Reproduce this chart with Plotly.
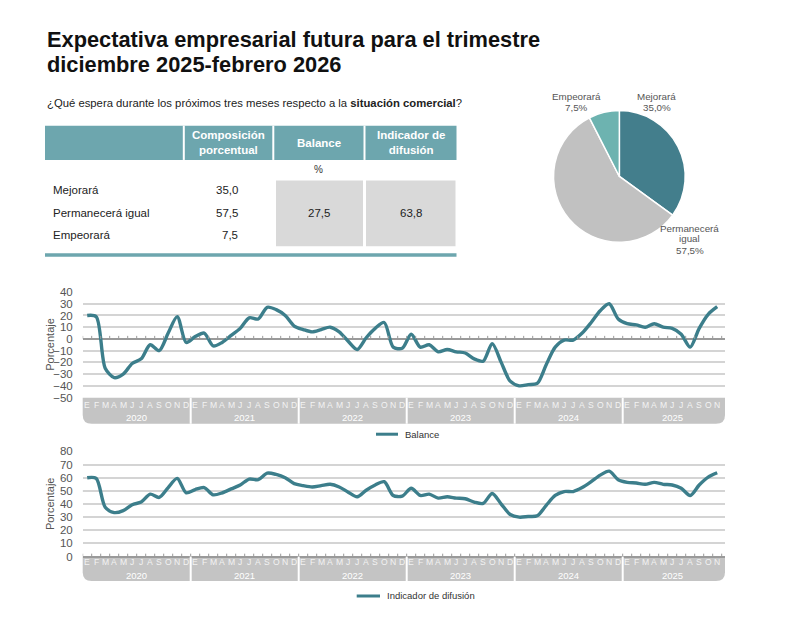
import plotly.graph_objects as go

W, H = 790, 617

# ---------------- data ----------------
years = ["2020", "2021", "2022", "2023", "2024", "2025"]
month_letters = ["E", "F", "M", "A", "M", "J", "J", "A", "S", "O", "N", "D"]

balance = [
    20, 19, -25, -33, -30, -21, -17, -5, -10, 5, 19, -3,
    2, 5, -6, -3, 3, 9, 18, 17, 27, 25, 20, 11,
    8, 6, 8, 10, 6, -2, -9, 1, 9, 14, -7, -8,
    4, -7, -5, -11, -9, -11, -12, -17, -19, -4, -20, -36,
    -40, -39, -38, -22, -7, -1, -1, 5, 14, 24, 30, 17,
    13, 12, 10, 13, 10, 9, 4, -7, 9, 21, 27.5,
]
difusion = [
    60, 59.5, 37.5, 33.5, 35, 39.5, 41.5, 47.5, 45, 52.5, 59.5, 48.5,
    51, 52.5, 47, 48.5, 51.5, 54.5, 59, 58.5, 63.5, 62.5, 60, 55.5,
    54, 53, 54, 55, 53, 49, 45.5, 50.5, 54.5, 57, 46.5, 46,
    52, 46.5, 47.5, 44.5, 45.5, 44.5, 44, 41.5, 40.5, 48, 40, 32,
    30, 30.5, 31, 39, 46.5, 49.5, 49.5, 52.5, 57, 62, 65, 58.5,
    56.5, 56, 55, 56.5, 55, 54.5, 52, 46.5, 54.5, 60.5, 63.8,
]

pie_labels = ["Mejorará", "Permanecerá igual", "Empeorará"]
pie_values = [35.0, 57.5, 7.5]
table_rows = ["Mejorará", "Permanecerá igual", "Empeorará"]
table_comp = ["35,0", "57,5", "7,5"]
table_balance = "27,5"
table_difusion = "63,8"
table_headers = ["Composición<br>porcentual", "Balance", "Indicador de<br>difusión"]

n = len(balance)
xs = list(range(n))
month_text = [month_letters[i % 12] for i in xs]

# ---------------- styling ----------------
NARROW = "Liberation Sans Narrow, Arial Narrow, Liberation Sans, Arial, sans-serif"
SANS = "Liberation Sans, Arial, Helvetica, sans-serif"
LINE = "#3c7e8b"
TEAL_HDR = "#6da6ae"
BAND = "#c4c4c4"
GRID = "#d4d4d4"


def px(x):
    return x / W


def py(y):
    return 1 - y / H


X0, X1 = 82.7, 725.0
MW = 9.0
xrange_ = [-0.5, -0.5 + (X1 - X0) / MW]

fig = go.Figure()

fig.add_trace(go.Scatter(x=xs, y=balance, mode="lines", line=dict(color=LINE, width=3.4, shape="spline", smoothing=0.8),
                         xaxis="x", yaxis="y", showlegend=False, hoverinfo="skip"))
fig.add_trace(go.Scatter(x=xs, y=difusion, mode="lines", line=dict(color=LINE, width=3.4, shape="spline", smoothing=0.8),
                         xaxis="x2", yaxis="y2", showlegend=False, hoverinfo="skip"))

# tick marks along baseline
tx1, ty1, tx2, ty2 = [], [], [], []
for i in range(n + 1):
    b = i - 0.5
    tx1 += [b, b, None]
    ty1 += [0, 2.6, None]
    tx2 += [b, b, None]
    ty2 += [0, 2.2, None]
fig.add_trace(go.Scatter(x=tx1, y=ty1, mode="lines", line=dict(color="#9a9a9a", width=1),
                         xaxis="x", yaxis="y", showlegend=False, hoverinfo="skip"))
fig.add_trace(go.Scatter(x=tx2, y=ty2, mode="lines", line=dict(color="#9a9a9a", width=1),
                         xaxis="x2", yaxis="y2", showlegend=False, hoverinfo="skip"))

# pie
fig.add_trace(go.Pie(labels=pie_labels, values=pie_values, sort=False, direction="clockwise", rotation=0,
                     marker=dict(colors=["#437e8c", "#c1c1c1", "#6db3b0"], line=dict(color="white", width=1.5)),
                     textinfo="none", hoverinfo="skip", showlegend=False,
                     domain=dict(x=[px(552.7), px(686)], y=[py(241), py(106.7)])))

shapes = []
ann = []


def text(x, y, t, size, color="#222", family=NARROW, xanchor="center", yanchor="middle", **kw):
    d = dict(x=px(x), y=py(y), xref="paper", yref="paper", xanchor=xanchor, yanchor=yanchor,
             text=t, showarrow=False, font=dict(family=family, size=size, color=color))
    d.update(kw)
    ann.append(d)


# ---------------- title ----------------
text(45, 34, "<b>Expectativa empresarial futura para el trimestre</b>", 21.8, "#111", SANS, "left")
text(45, 59.5, "<b>diciembre 2025-febrero 2026</b>", 21.8, "#111", SANS, "left")
text(45, 98.5, "¿Qué espera durante los próximos tres meses respecto a la <b>situación comercial</b>?",
     11.3, "#222", NARROW, "left")

# ---------------- table ----------------
shapes.append(dict(type="rect", xref="paper", yref="paper", x0=px(45), x1=px(456.5), y0=py(157), y1=py(122),
                   fillcolor=TEAL_HDR, line=dict(width=0), layer="below"))
for sx in [183.8, 273.3, 364.5]:
    shapes.append(dict(type="line", xref="paper", yref="paper", x0=px(sx), x1=px(sx), y0=py(157), y1=py(122),
                       line=dict(color="white", width=2)))
col_centers = [228.5, 318.5, 410.5]
for cx, t in zip(col_centers, table_headers):
    text(cx, 139.5, "<b>" + t + "</b>", 11.5, "white")
text(318.5, 167, "%", 10, "#333")
for gx0, gx1 in [(276, 363), (366, 455.5)]:
    shapes.append(dict(type="rect", xref="paper", yref="paper", x0=px(gx0), x1=px(gx1), y0=py(245), y1=py(178),
                       fillcolor="#d9d9d9", line=dict(width=0), layer="below"))
row_y = [188, 211, 234]
for ry, lab, val in zip(row_y, table_rows, table_comp):
    text(50.5, ry, lab, 11.5, "#222", NARROW, "left")
    text(239.5, ry, val, 11.5, "#222", NARROW, "right")
text(318.5, 211, table_balance, 11.5)
text(410.5, 211, table_difusion, 11.5)
shapes.append(dict(type="line", xref="paper", yref="paper", x0=px(45), x1=px(456.5), y0=py(254), y1=py(254),
                   line=dict(color=TEAL_HDR, width=3.5)))

# ---------------- pie labels ----------------
pie_ann = [("Empeorará", 576.5, 92.5), ("7,5%", 576.5, 104), ("Mejorará", 656.5, 92.5), ("35,0%", 656.5, 104),
           ("Permanecerá", 689.5, 226.5), ("igual", 689.5, 237.5), ("57,5%", 689.5, 249)]
for t, ax, ay in pie_ann:
    text(ax, ay, t, 9.8, "#555")


# ---------------- month bands ----------------
def band(top, bot, xa, month_y, year_y):
    r = 9
    rx, ry = r / W, r / H
    L, R, T, B = px(X0), px(X1), py(top), py(bot)
    path = (f"M {L},{T} L {R},{T} L {R},{B + ry} Q {R},{B} {R - rx},{B} "
            f"L {L + rx},{B} Q {L},{B} {L},{B + ry} Z")
    shapes.append(dict(type="path", xref="paper", yref="paper", path=path, fillcolor=BAND,
                       line=dict(width=0), layer="below"))
    for k in range(1, len(years)):
        sx = 12 * k - 0.5
        shapes.append(dict(type="line", xref=xa, yref="paper", x0=sx, x1=sx, y0=B, y1=T,
                           line=dict(color="white", width=2)))
    for i in xs:
        ann.append(dict(x=i, y=py(month_y), xref=xa, yref="paper", text=month_text[i], showarrow=False,
                        xanchor="center", yanchor="middle",
                        font=dict(family=NARROW, size=8.6, color="#f3f3f3")))
    for k, yr in enumerate(years):
        first = 12 * k
        last = min(12 * k + 11, n - 1)
        ann.append(dict(x=(first + last) / 2, y=py(year_y), xref=xa, yref="paper", text=yr, showarrow=False,
                        xanchor="center", yanchor="middle",
                        font=dict(family=NARROW, size=9.5, color="white")))


band(399.5, 426, "x", 407, 420)
band(561.5, 586.5, "x2", 567.5, 580.5)

# neutral 50 line on chart 2
shapes.append(dict(type="line", xref="x2", yref="y2", x0=xrange_[0], x1=xrange_[1], y0=50, y1=50,
                   line=dict(color="#8fa3a6", width=1.5), layer="below"))

# ---------------- legends ----------------
for (lx0, lx1, ly, txt) in [(376, 398, 436.7, "Balance"), (356.7, 380, 601.7, "Indicador de difusión")]:
    shapes.append(dict(type="line", xref="paper", yref="paper", x0=px(lx0), x1=px(lx1), y0=py(ly), y1=py(ly),
                       line=dict(color=LINE, width=3)))
    text(lx1 + 4.5, ly, txt, 9.5, "#333", NARROW, "left")

# y axis titles
for cy in [345.5, 508]:
    text(50, cy, "Porcentaje", 11, "#555", textangle=-90)

xcommon = dict(range=xrange_, domain=[px(X0), px(X1)], showticklabels=False, showgrid=False,
               zeroline=False, showline=False, ticks="", fixedrange=True)
ycommon = dict(dtick=10, showgrid=True, gridcolor=GRID, gridwidth=1.5, zeroline=True, zerolinecolor="#9a9a9a",
               zerolinewidth=1.5, showline=False, ticks="", ticklabelstandoff=9,
               tickfont=dict(family=NARROW, size=11.5, color="#555"), fixedrange=True)

fig.update_layout(
    width=W, height=H, margin=dict(l=0, r=0, t=0, b=0),
    paper_bgcolor="white", plot_bgcolor="rgba(0,0,0,0)",
    xaxis=dict(anchor="y", **xcommon),
    yaxis=dict(anchor="x", range=[-50, 40], domain=[py(399.3), py(291.7)], **ycommon),
    xaxis2=dict(anchor="y2", **xcommon),
    yaxis2=dict(anchor="x2", range=[0, 80], domain=[py(561.5), py(454.3)], **ycommon),
    shapes=shapes, annotations=ann, showlegend=False,
)

fig.write_html("out.html")
